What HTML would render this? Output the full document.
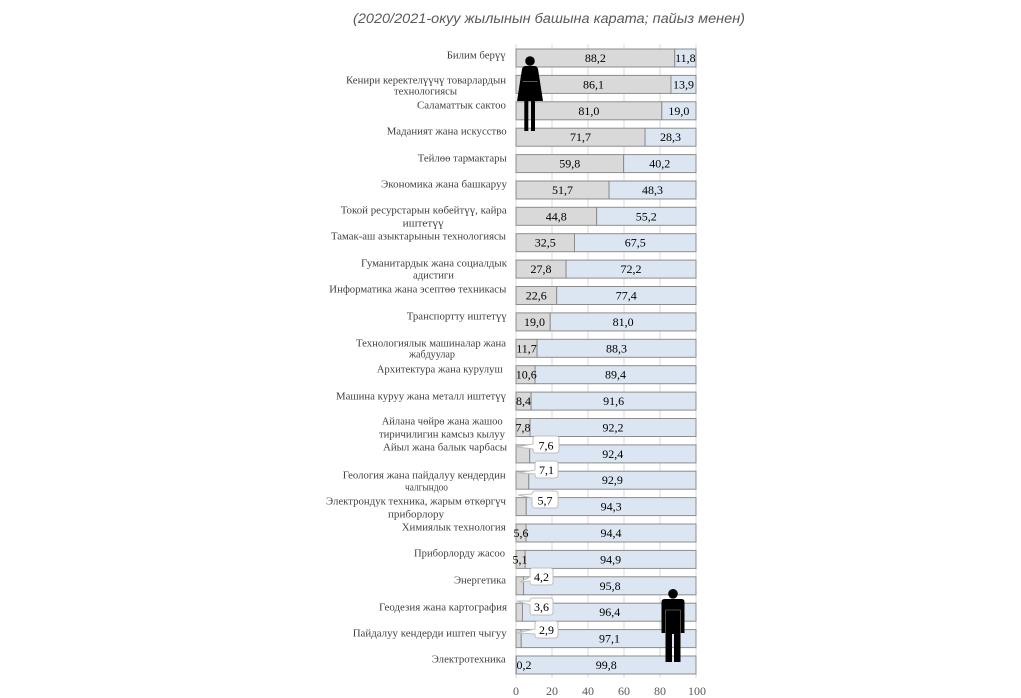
<!DOCTYPE html>
<html>
<head>
<meta charset="utf-8">
<style>
html,body{margin:0;padding:0;background:#fff;}
svg{display:block;}
.t{font-family:"Liberation Sans",sans-serif;font-style:italic;font-size:14px;fill:#595959;}
.c{font-family:"Liberation Serif","DejaVu Serif",serif;font-size:11px;fill:#404040;}
.v{font-family:"Liberation Serif","DejaVu Serif",serif;font-size:12px;fill:#000;text-anchor:middle;}
.a{font-family:"Liberation Serif","DejaVu Serif",serif;font-size:12px;fill:#595959;text-anchor:middle;}
.f{fill:#d9d9d9;stroke:#8c8c8c;stroke-width:1;}
.m{fill:#dce6f2;stroke:#8c8c8c;stroke-width:1;}
.g{stroke:#d9d9d9;stroke-width:1;}
.co{fill:#fff;stroke:#bfbfbf;stroke-width:1;}
</style>
</head>
<body>
<svg width="1021" height="698" viewBox="0 0 1021 698" xmlns="http://www.w3.org/2000/svg">
<text class="t" x="353" y="23" textLength="392" lengthAdjust="spacingAndGlyphs">(2020/2021-окуу жылынын башына карата; пайыз менен)</text>

<!-- gridlines -->
<line class="g" x1="516" y1="44" x2="516" y2="678"/>
<line class="g" x1="552" y1="44" x2="552" y2="678"/>
<line class="g" x1="588" y1="44" x2="588" y2="678"/>
<line class="g" x1="624" y1="44" x2="624" y2="678"/>
<line class="g" x1="660" y1="44" x2="660" y2="678"/>
<line class="g" x1="696" y1="44" x2="696" y2="678"/>

<!-- bars -->
<g>
<rect class="f" x="516" y="49" width="158.76" height="18"/><rect class="m" x="674.76" y="49" width="21.24" height="18"/>
<rect class="f" x="516" y="75.4" width="154.98" height="18"/><rect class="m" x="670.98" y="75.4" width="25.02" height="18"/>
<rect class="f" x="516" y="101.8" width="145.8" height="18"/><rect class="m" x="661.8" y="101.8" width="34.2" height="18"/>
<rect class="f" x="516" y="128.2" width="129.06" height="18"/><rect class="m" x="645.06" y="128.2" width="50.94" height="18"/>
<rect class="f" x="516" y="154.6" width="107.64" height="18"/><rect class="m" x="623.64" y="154.6" width="72.36" height="18"/>
<rect class="f" x="516" y="181" width="93.06" height="18"/><rect class="m" x="609.06" y="181" width="86.94" height="18"/>
<rect class="f" x="516" y="207.3" width="80.64" height="18"/><rect class="m" x="596.64" y="207.3" width="99.36" height="18"/>
<rect class="f" x="516" y="233.7" width="58.5" height="18"/><rect class="m" x="574.5" y="233.7" width="121.5" height="18"/>
<rect class="f" x="516" y="260.1" width="50.04" height="18"/><rect class="m" x="566.04" y="260.1" width="129.96" height="18"/>
<rect class="f" x="516" y="286.5" width="40.68" height="18"/><rect class="m" x="556.68" y="286.5" width="139.32" height="18"/>
<rect class="f" x="516" y="312.9" width="34.2" height="18"/><rect class="m" x="550.2" y="312.9" width="145.8" height="18"/>
<rect class="f" x="516" y="339.3" width="21.06" height="18"/><rect class="m" x="537.06" y="339.3" width="158.94" height="18"/>
<rect class="f" x="516" y="365.7" width="19.08" height="18"/><rect class="m" x="535.08" y="365.7" width="160.92" height="18"/>
<rect class="f" x="516" y="392.1" width="15.12" height="18"/><rect class="m" x="531.12" y="392.1" width="164.88" height="18"/>
<rect class="f" x="516" y="418.5" width="14.04" height="18"/><rect class="m" x="530.04" y="418.5" width="165.96" height="18"/>
<rect class="f" x="516" y="444.9" width="13.68" height="18"/><rect class="m" x="529.68" y="444.9" width="166.32" height="18"/>
<rect class="f" x="516" y="471.2" width="12.78" height="18"/><rect class="m" x="528.78" y="471.2" width="167.22" height="18"/>
<rect class="f" x="516" y="497.6" width="10.26" height="18"/><rect class="m" x="526.26" y="497.6" width="169.74" height="18"/>
<rect class="f" x="516" y="524" width="10.08" height="18"/><rect class="m" x="526.08" y="524" width="169.92" height="18"/>
<rect class="f" x="516" y="550.4" width="9.18" height="18"/><rect class="m" x="525.18" y="550.4" width="170.82" height="18"/>
<rect class="f" x="516" y="576.8" width="7.56" height="18"/><rect class="m" x="523.56" y="576.8" width="172.44" height="18"/>
<rect class="f" x="516" y="603.2" width="6.48" height="18"/><rect class="m" x="522.48" y="603.2" width="173.52" height="18"/>
<rect class="f" x="516" y="629.6" width="5.22" height="18"/><rect class="m" x="521.22" y="629.6" width="174.78" height="18"/>
<rect class="f" x="516" y="656" width="0.36" height="18"/><rect class="m" x="516.36" y="656" width="179.64" height="18"/>
</g>

<!-- female values -->
<g>
<text class="v" x="595.4" y="62">88,2</text>
<text class="v" x="593.5" y="88.4">86,1</text>
<text class="v" x="588.9" y="114.8">81,0</text>
<text class="v" x="580.5" y="141.2">71,7</text>
<text class="v" x="569.8" y="167.6">59,8</text>
<text class="v" x="562.5" y="194">51,7</text>
<text class="v" x="556.3" y="220.3">44,8</text>
<text class="v" x="545.3" y="246.7">32,5</text>
<text class="v" x="541" y="273.1">27,8</text>
<text class="v" x="536.3" y="299.5">22,6</text>
<text class="v" x="534.5" y="325.9">19,0</text>
<text class="v" x="526.5" y="352.3">11,7</text>
<text class="v" x="526.3" y="378.7">10,6</text>
<text class="v" x="523.5" y="405.1">8,4</text>
<text class="v" x="523" y="431.5">7,8</text>
<text class="v" x="521" y="537">5,6</text>
<text class="v" x="520" y="563.4">5,1</text>
<text class="v" x="524" y="669">0,2</text>
</g>

<!-- male values -->
<g>
<text class="v" x="685.4" y="62">11,8</text>
<text class="v" x="683.5" y="88.4">13,9</text>
<text class="v" x="678.9" y="114.8">19,0</text>
<text class="v" x="670.5" y="141.2">28,3</text>
<text class="v" x="659.8" y="167.6">40,2</text>
<text class="v" x="652.5" y="194">48,3</text>
<text class="v" x="646.3" y="220.3">55,2</text>
<text class="v" x="635.3" y="246.7">67,5</text>
<text class="v" x="631" y="273.1">72,2</text>
<text class="v" x="626.3" y="299.5">77,4</text>
<text class="v" x="623.1" y="325.9">81,0</text>
<text class="v" x="616.5" y="352.3">88,3</text>
<text class="v" x="615.5" y="378.7">89,4</text>
<text class="v" x="613.6" y="405.1">91,6</text>
<text class="v" x="613" y="431.5">92,2</text>
<text class="v" x="612.8" y="457.9">92,4</text>
<text class="v" x="612.4" y="484.2">92,9</text>
<text class="v" x="611.1" y="510.6">94,3</text>
<text class="v" x="611" y="537">94,4</text>
<text class="v" x="610.6" y="563.4">94,9</text>
<text class="v" x="610.1" y="589.8">95,8</text>
<text class="v" x="609.8" y="616.2">96,4</text>
<text class="v" x="609.5" y="642.6">97,1</text>
<text class="v" x="606.2" y="669">99,8</text>
</g>

<!-- callouts -->
<g>
<path class="co" d="M536,436 H556 Q559,436 559,439 V450 Q559,453 556,453 H536 Q533,453 533,450 V449 L517,447 L533,444 V439 Q533,436 536,436 Z"/>
<text class="v" x="546" y="449.5">7,6</text>
<path class="co" d="M538,461 H555 Q558,461 558,464 V475 Q558,478 555,478 H538 Q535,478 535,475 V474 L518,473 L535,470 V464 Q535,461 538,461 Z"/>
<text class="v" x="546.5" y="474">7,1</text>
<path class="co" d="M535,491 H555 Q558,491 558,494 V505 Q558,508 555,508 H535 Q532,508 532,505 V498 L518,495 L532,494 Q532,491 535,491 Z"/>
<text class="v" x="545" y="504.5">5,7</text>
<path class="co" d="M533,568 H550 Q553,568 553,571 V582 Q553,585 550,585 H533 Q530,585 530,582 V581 L520,582 L530,577 V571 Q530,568 533,568 Z"/>
<text class="v" x="541.5" y="581">4,2</text>
<path class="co" d="M533,598 H550 Q553,598 553,601 V612 Q553,615 550,615 H533 Q530,615 530,612 V605 L517,601 L530,601 Q530,598 533,598 Z"/>
<text class="v" x="541.5" y="611">3,6</text>
<path class="co" d="M538,621 H555 Q558,621 558,624 V635 Q558,638 555,638 H538 Q535,638 535,635 V634 L517,633 L535,629 V624 Q535,621 538,621 Z"/>
<text class="v" x="546.5" y="634">2,9</text>
</g>

<!-- woman icon -->
<g fill="#000">
<circle cx="530" cy="61" r="4.8"/>
<path d="M525,66 H535 Q537,66 538,69 L543,101 H517 L522,69 Q523,66 525,66 Z"/>
<rect x="524.3" y="100" width="4" height="31"/>
<rect x="531" y="100" width="4" height="31"/>
<line x1="522.5" y1="81.5" x2="537.5" y2="81.5" stroke="#808080" stroke-width="0.7"/>
</g>

<!-- man icon -->
<g fill="#000">
<circle cx="673" cy="593.8" r="4.8"/>
<path d="M664.5,599 H681.5 Q684.5,599 684.5,602 V633 H680.5 V662 H674 V634 H672 V662 H665.5 V633 H661.5 V602 Q661.5,599 664.5,599 Z"/>
<line x1="665.5" y1="610" x2="665.5" y2="633" stroke="#808080" stroke-width="0.6"/>
<line x1="680.5" y1="610" x2="680.5" y2="633" stroke="#808080" stroke-width="0.6"/>
<line x1="665.5" y1="610" x2="680.5" y2="610" stroke="#808080" stroke-width="0.6"/>
</g>

<!-- category labels -->
<g class="c">
<text x="446.7" y="58.5" textLength="59" lengthAdjust="spacingAndGlyphs">Билим берүү</text>
<text x="346" y="83.5" textLength="160" lengthAdjust="spacingAndGlyphs">Кенири керектелүүчү товарлардын</text>
<text x="394" y="94.5" textLength="63" lengthAdjust="spacingAndGlyphs">технологиясы</text>
<text x="417" y="108.5" textLength="89" lengthAdjust="spacingAndGlyphs">Саламаттык  сактоо</text>
<text x="386.7" y="134.5" textLength="120" lengthAdjust="spacingAndGlyphs">Маданият жана искусство</text>
<text x="417.7" y="161.5" textLength="89" lengthAdjust="spacingAndGlyphs">Тейлөө тармактары</text>
<text x="381" y="187.5" textLength="126" lengthAdjust="spacingAndGlyphs">Экономика жана башкаруу</text>
<text x="340.7" y="213.5" textLength="166" lengthAdjust="spacingAndGlyphs">Токой ресурстарын көбейтүү, кайра</text>
<text x="402.7" y="226.5" textLength="41" lengthAdjust="spacingAndGlyphs">иштетүү</text>
<text x="331" y="239.5" textLength="175" lengthAdjust="spacingAndGlyphs">Тамак-аш азыктарынын  технологиясы</text>
<text x="361" y="266.5" textLength="146" lengthAdjust="spacingAndGlyphs">Гуманитардык жана социалдык</text>
<text x="413" y="278.5" textLength="41" lengthAdjust="spacingAndGlyphs">адистиги</text>
<text x="329.3" y="292.5" textLength="177" lengthAdjust="spacingAndGlyphs">Информатика жана эсептөө техникасы</text>
<text x="406.7" y="319.5" textLength="100" lengthAdjust="spacingAndGlyphs">Транспортту иштетүү</text>
<text x="356" y="346.5" textLength="150" lengthAdjust="spacingAndGlyphs">Технологиялык машиналар жана</text>
<text x="409" y="357.5" textLength="46" lengthAdjust="spacingAndGlyphs">жабдуулар</text>
<text x="376.7" y="372.5" textLength="126" lengthAdjust="spacingAndGlyphs">Архитектура жана курулуш</text>
<text x="336" y="399.5" textLength="170" lengthAdjust="spacingAndGlyphs">Машина куруу жана металл иштетүү</text>
<text x="381.7" y="424.5" textLength="121" lengthAdjust="spacingAndGlyphs">Айлана чөйрө жана жашоо</text>
<text x="379" y="437.5" textLength="126" lengthAdjust="spacingAndGlyphs">тиричилигин камсыз кылуу</text>
<text x="383" y="450.5" textLength="124" lengthAdjust="spacingAndGlyphs">Айыл жана балык чарбасы</text>
<text x="342.7" y="478.5" textLength="163" lengthAdjust="spacingAndGlyphs">Геология жана пайдалуу кендердин</text>
<text x="405" y="490.5" textLength="43" lengthAdjust="spacingAndGlyphs">чалгындоо</text>
<text x="326" y="504.5" textLength="180" lengthAdjust="spacingAndGlyphs">Электрондук техника, жарым өткөргүч</text>
<text x="388" y="517.5" textLength="56" lengthAdjust="spacingAndGlyphs">приборлору</text>
<text x="401.7" y="530.5" textLength="104" lengthAdjust="spacingAndGlyphs">Химиялык технология</text>
<text x="414" y="556.5" textLength="91" lengthAdjust="spacingAndGlyphs">Приборлорду жасоо</text>
<text x="454" y="583.5" textLength="52" lengthAdjust="spacingAndGlyphs">Энергетика</text>
<text x="379" y="610.5" textLength="128" lengthAdjust="spacingAndGlyphs">Геодезия жана картография</text>
<text x="352.7" y="636.5" textLength="154" lengthAdjust="spacingAndGlyphs">Пайдалуу кендерди иштеп чыгуу</text>
<text x="431.7" y="662.5" textLength="74" lengthAdjust="spacingAndGlyphs">Электротехника</text>
</g>

<!-- x axis labels -->
<g>
<text class="a" x="516" y="695">0</text>
<text class="a" x="552" y="695">20</text>
<text class="a" x="588" y="695">40</text>
<text class="a" x="624" y="695">60</text>
<text class="a" x="660" y="695">80</text>
<text class="a" x="697" y="695">100</text>
</g>
</svg>
</body>
</html>
